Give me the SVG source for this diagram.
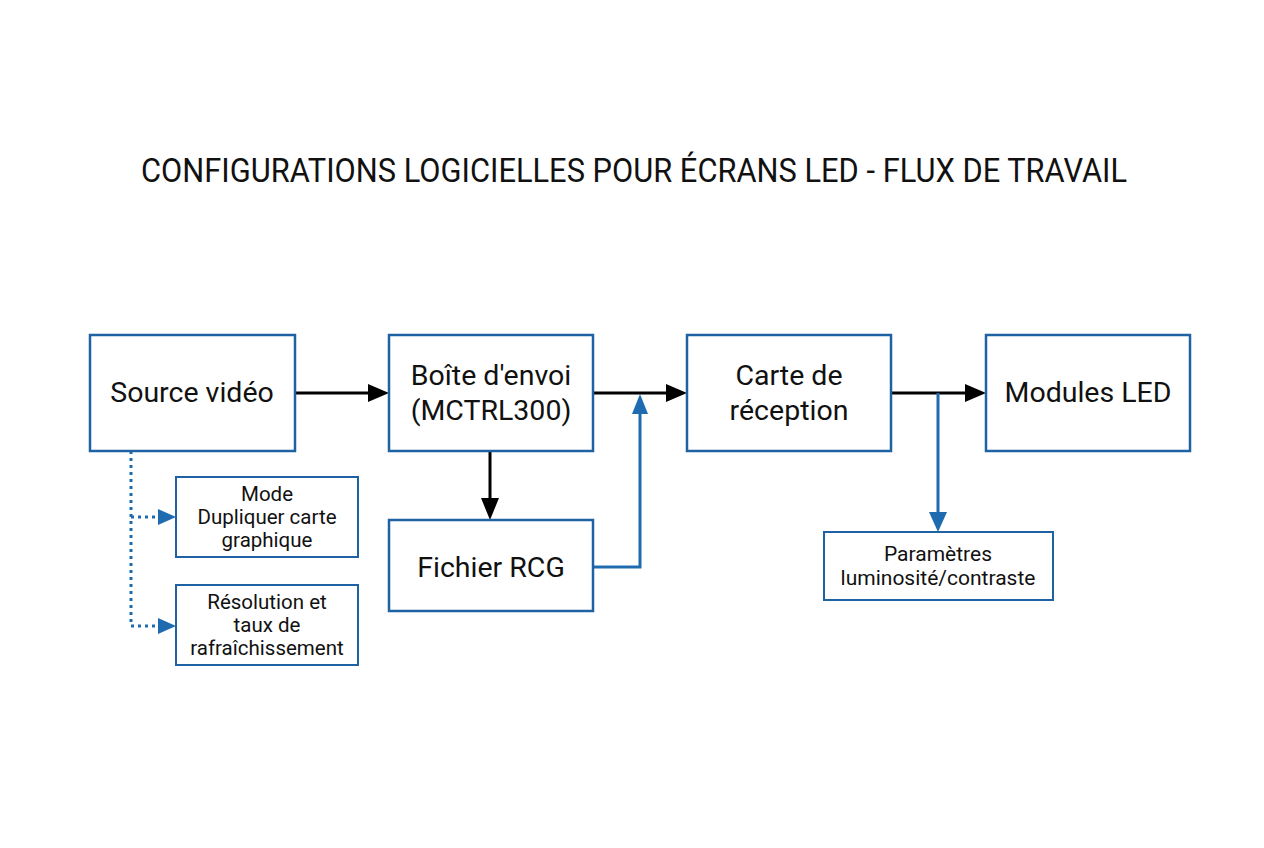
<svg xmlns="http://www.w3.org/2000/svg" width="1264" height="848" viewBox="0 0 1264 848">
<style>
.box{fill:#fff;stroke:#1f62a3;stroke-width:2.5}
.t{font-family:Roboto,"Liberation Sans",sans-serif;fill:#111;text-anchor:middle}
.big{font-size:28.5px}
.sm{font-size:20.5px}
.k{stroke:#000;stroke-width:3;fill:none}
.b{stroke:#1f6bb0;stroke-width:3;fill:none}
.d{stroke:#1f6bb0;stroke-width:3;fill:none;stroke-dasharray:3 4}
</style>
<rect width="1264" height="848" fill="#fff"/>
<text class="t" x="634" y="182" font-size="34" textLength="986" lengthAdjust="spacingAndGlyphs">CONFIGURATIONS LOGICIELLES POUR ÉCRANS LED - FLUX DE TRAVAIL</text>
<g id="connectors">
<path d="M295,393 H370" class="k"/><path d="M368,384 L389,393 L368,402 Z" fill="#000"/>
<path d="M593,393 H668" class="k"/><path d="M666,384 L687,393 L666,402 Z" fill="#000"/>
<path d="M891,393 H967" class="k"/><path d="M965,384 L986,393 L965,402 Z" fill="#000"/>
<path d="M490,451 V500" class="k"/><path d="M481,498 L490,520 L499,498 Z" fill="#000"/>
<path d="M593,567 H640 V412" class="b"/><path d="M632,414 L640,394 L648,414 Z" fill="#1f6bb0"/>
<path d="M938,393 V514" class="b"/><path d="M929,512 L938,532 L947,512 Z" fill="#1f6bb0"/>
<path d="M131,451 V626" class="d"/>
<path d="M131,517 H160" class="d"/><path d="M158,509 L176,517 L158,525 Z" fill="#1f6bb0"/>
<path d="M131,626 H160" class="d"/><path d="M158,618 L176,626 L158,634 Z" fill="#1f6bb0"/>
</g>
<g id="source"><rect class="box" x="90" y="335" width="205" height="116"/><text class="t big" x="192" y="402">Source vidéo</text></g>
<g id="boite"><rect class="box" x="389" y="335" width="204" height="116"/><text class="t big" x="491" y="385">Boîte d'envoi</text><text class="t big" x="491" y="420">(MCTRL300)</text></g>
<g id="carte"><rect class="box" x="687" y="335" width="204" height="116"/><text class="t big" x="789" y="385">Carte de</text><text class="t big" x="789" y="420">réception</text></g>
<g id="modules"><rect class="box" x="986" y="335" width="204" height="116"/><text class="t big" x="1088" y="402">Modules LED</text></g>
<g id="fichier"><rect class="box" x="389" y="520" width="204" height="91"/><text class="t big" x="491" y="577">Fichier RCG</text></g>
<g id="mode"><rect class="box" x="176" y="477" width="182" height="80" style="stroke-width:2"/><text class="t sm" x="267" y="501">Mode</text><text class="t sm" x="267" y="524">Dupliquer carte</text><text class="t sm" x="267" y="547">graphique</text></g>
<g id="resolution"><rect class="box" x="176" y="585" width="182" height="80" style="stroke-width:2"/><text class="t sm" x="267" y="609">Résolution et</text><text class="t sm" x="267" y="632">taux de</text><text class="t sm" x="267" y="655">rafraîchissement</text></g>
<g id="parametres"><rect class="box" x="824" y="532" width="229" height="68" style="stroke-width:2"/><text class="t" font-size="21" x="938" y="561">Paramètres</text><text class="t" font-size="21" x="938" y="585">luminosité/contraste</text></g>
</svg>
